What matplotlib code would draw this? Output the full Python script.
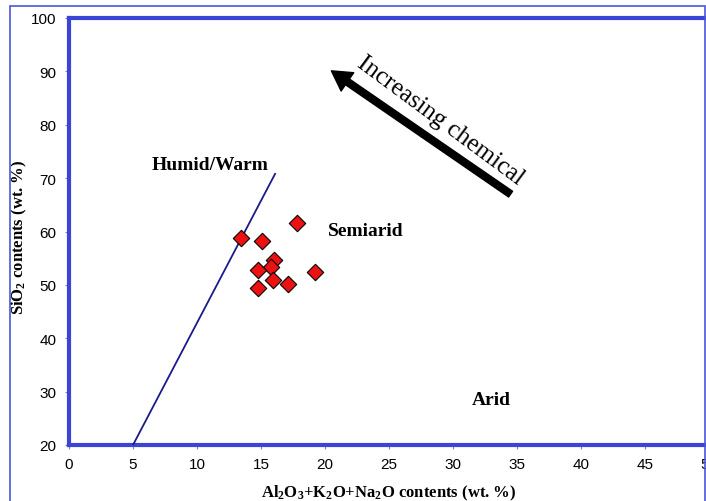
import matplotlib
matplotlib.use("Agg")
import matplotlib.pyplot as plt
from matplotlib.patches import Rectangle
from matplotlib.lines import Line2D

plt.rcParams['mathtext.fontset'] = 'custom'
plt.rcParams['mathtext.rm'] = 'Liberation Serif:bold'
plt.rcParams['mathtext.it'] = 'Liberation Serif:bold'
plt.rcParams['mathtext.bf'] = 'Liberation Serif:bold'
plt.rcParams['mathtext.default'] = 'rm'

# Data
x_vals = [17.8, 13.4, 15.1, 16.0, 15.8, 14.8, 15.9, 17.1, 14.8, 19.2]
y_vals = [61.5, 58.8, 58.2, 54.7, 53.4, 52.8, 51.0, 50.2, 49.5, 52.4]
boundary_x = [5.0, 16.1]
boundary_y = [20.0, 70.8]
x_ticks = [0, 5, 10, 15, 20, 25, 30, 35, 40, 45, 50]
y_ticks = [20, 30, 40, 50, 60, 70, 80, 90, 100]

fig = plt.figure(figsize=(7.06, 5.02), dpi=100)
ax = fig.add_axes([69/706, 56/502, 640/706, 427/502])
ax.set_xlim(0, 50)
ax.set_ylim(20, 100)
ax.set_xticks(x_ticks)
ax.set_yticks(y_ticks)
ax.set_xticklabels([str(t) for t in x_ticks], fontfamily='Liberation Sans', fontsize=11)
ax.set_yticklabels([str(t) for t in y_ticks], fontfamily='Liberation Sans', fontsize=11)
ax.tick_params(direction='out', length=3, color='#888888', pad=6)

for s in ax.spines.values():
    s.set_color('#3a44d6')
    s.set_linewidth(3)
# black shadow on top/left
ax.add_line(Line2D([0, 0, 1], [0, 1, 1], transform=ax.transAxes, color='black',
                   lw=1.2, clip_on=False, zorder=6))
ax.spines['left'].set_zorder(7)
ax.spines['top'].set_zorder(7)

ax.plot(boundary_x, boundary_y, color='#1a1a8c', lw=1.3, zorder=3)
ax.scatter(x_vals, y_vals, marker='D', s=70, facecolor='#ee1111', edgecolor='black',
           linewidth=0.8, zorder=4)

serif = 'Liberation Serif'
ax.text(11.0, 72.5, 'Humid/Warm', fontfamily=serif, fontweight='bold', fontsize=14,
        ha='center', va='center')
ax.text(23.2, 60.2, 'Semiarid', fontfamily=serif, fontweight='bold', fontsize=14,
        ha='center', va='center')
ax.text(33.0, 28.5, 'Arid', fontfamily=serif, fontweight='bold', fontsize=14,
        ha='center', va='center')

ax.annotate('', xy=(20.5, 90.1), xytext=(34.5, 67.0),
            arrowprops=dict(facecolor='black', edgecolor='black', width=5,
                            headwidth=16, headlength=14))
ax.text(29.0, 80.9, 'Increasing chemical', fontfamily=serif, fontsize=18,
        rotation=-36.5, rotation_mode='anchor', ha='center', va='center')

ax.set_xlabel(r'Al$_2$O$_3$+K$_2$O+Na$_2$O contents (wt. %)', fontfamily=serif,
              fontweight='bold', fontsize=12, labelpad=8)
ax.set_ylabel(r'SiO$_2$ contents (wt. %)', fontfamily=serif, fontweight='bold',
              fontsize=12)
ax.yaxis.set_label_coords((29 - 69) / 640, 0.49)

fig.patches.append(Rectangle((10/706, -0.02), 695/706, 1.0 - 7/502 + 0.02,
                             transform=fig.transFigure, fill=False,
                             edgecolor='#4b55d8', lw=1.2))

fig.savefig('out.png', dpi=100)
